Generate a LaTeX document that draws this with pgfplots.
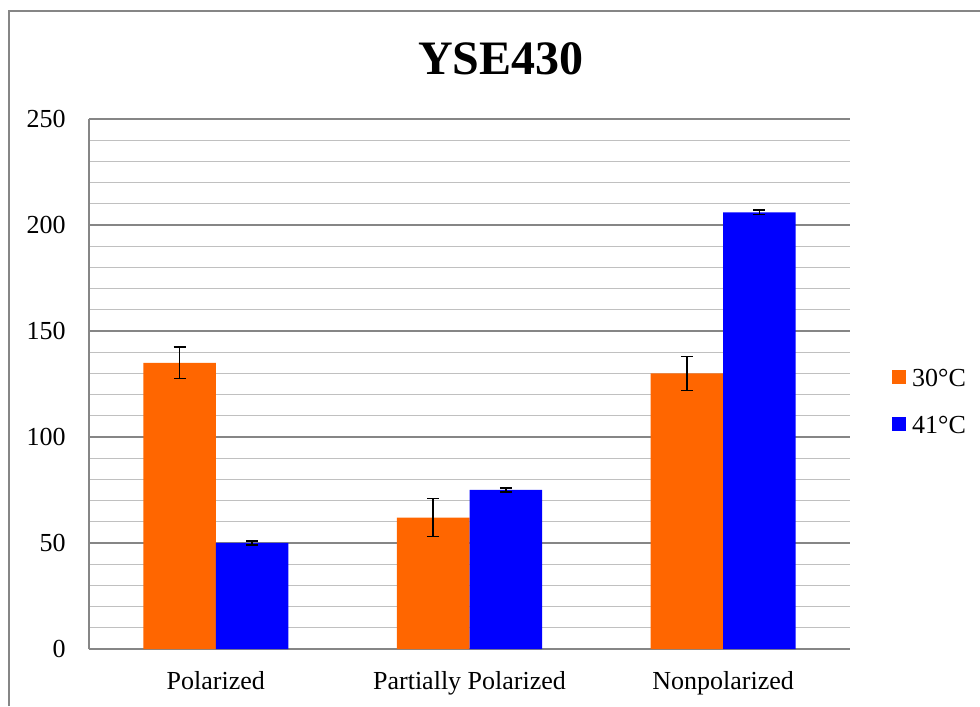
\documentclass[border=0pt]{standalone}
\usepackage{fontspec}
\setmainfont{Liberation Serif}
\usepackage{pgfplots}
\pgfplotsset{compat=1.18}

\definecolor{barorange}{RGB}{255,102,0}
\definecolor{barblue}{RGB}{0,0,255}
\definecolor{majorgrid}{RGB}{134,134,134}
\definecolor{minorgrid}{RGB}{192,192,192}

\begin{document}
\begin{tikzpicture}[x=0.75pt,y=0.75pt]
\useasboundingbox (0,0) rectangle (980,706);
% outer chart frame (cut off at right and bottom)
\draw[majorgrid, line width=1pt] (9,0) -- (9,695) -- (980,695);
% title
\node[anchor=base, font=\fontsize{36}{40}\selectfont\bfseries] at (501,631) {YSE430};

\begin{axis}[
  at={(66.75pt,42.75pt)}, anchor=south west,
  scale only axis,
  width=570.75pt, height=397.5pt,
  xmin=-0.5, xmax=2.5,
  ymin=0, ymax=250,
  ytick={0,50,...,250},
  minor y tick num=4,
  xtick={0,1,2},
  xticklabels={Polarized,Partially Polarized,Nonpolarized},
  axis x line*=bottom, axis y line*=left,
  axis line style={majorgrid, line width=1.1pt},
  major tick length=0pt, minor tick length=0pt,
  ymajorgrids, yminorgrids,
  major grid style={majorgrid, line width=1pt},
  minor grid style={minorgrid, line width=1pt},
  tick label style={font=\fontsize{19.5}{23}\selectfont, inner sep=0pt},
  /pgf/number format/assume math mode=true,
  yticklabel style={anchor=east, xshift=-17.25pt},
  xticklabel style={anchor=north, yshift=-17pt},
  bar width=0.286,
  legend style={at={(rel axis cs:1.055,0.468)}, anchor=west,
    draw=none, fill=none, inner sep=0pt,
    font=\fontsize{19.5}{23}\selectfont,
    row sep=21pt,
    nodes={inner sep=0pt, text height=14pt, text depth=0pt}},
  legend cell align=left,
  legend image code/.code={\fill[#1] (0pt,-5pt) rectangle (10.5pt,5.5pt); \path (15pt,0pt);},
]
% bars placed at category -/+ half a bar width
\addplot[ybar, bar shift=0, fill=barorange, draw=none,
  error bars/.cd, y dir=both, y explicit,
  error bar style={draw=black, line width=1.2pt},
  error mark options={draw=black, rotate=90, mark size=4.5pt, line width=1.2pt}]
  coordinates {(-0.143,135) +- (0,7.5) (0.857,62) +- (0,9) (1.857,130) +- (0,8)};
\addplot[ybar, bar shift=0, fill=barblue, draw=none,
  error bars/.cd, y dir=both, y explicit,
  error bar style={draw=black, line width=1.2pt},
  error mark options={draw=black, rotate=90, mark size=4.5pt, line width=1.2pt}]
  coordinates {(0.143,50) +- (0,1) (1.143,75) +- (0,1) (2.143,206) +- (0,1)};
\legend{30°C,41°C}
\end{axis}
\end{tikzpicture}
\end{document}
